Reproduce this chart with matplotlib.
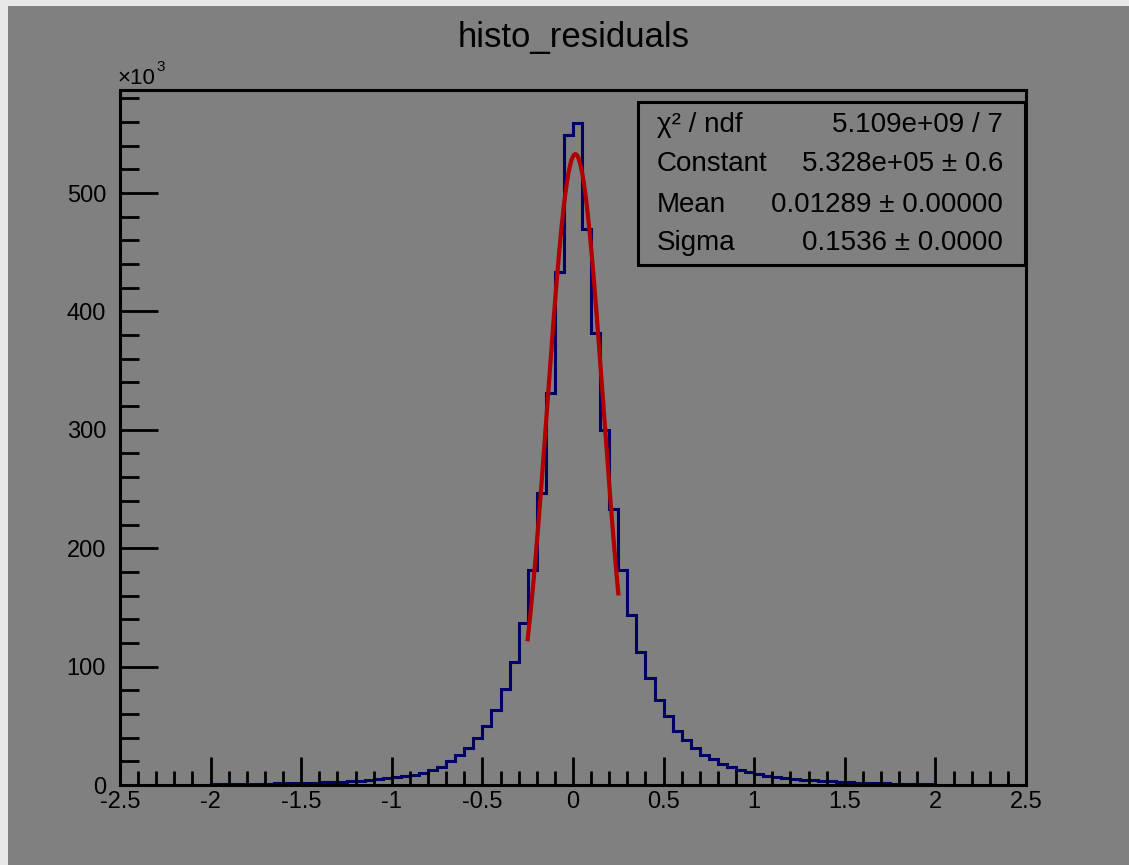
import numpy as np
import matplotlib
matplotlib.use("Agg")
import matplotlib.pyplot as plt
from matplotlib.ticker import MultipleLocator, FuncFormatter
from matplotlib.patches import Rectangle

plt.rcParams['font.family'] = ['Liberation Sans', 'DejaVu Sans']

# histogram: 80 bins of 0.05 from -2 to 2, counts in thousands
bin_lo = -2.0
bin_w = 0.05
counts_k = [0.5, 0.6, 0.7, 0.8, 0.9, 1.0, 1.1, 1.3, 1.4, 1.6,
            1.8, 2.0, 2.3, 2.6, 2.9, 3.3, 3.8, 4.3, 4.9, 5.6,
            6.5, 7.5, 8.5, 10, 12.5, 15.5,
            20, 25, 31, 40, 50, 63, 81, 104, 137, 182, 247, 331, 433, 549,
            559, 470, 382, 300, 233, 182, 144, 112, 90, 72, 58, 46, 38, 31,
            25, 22, 18, 15, 13, 11, 9.5, 8, 7, 6, 5.2, 4.5, 4, 3.5, 3, 2.6,
            2.3, 2.0, 1.8, 1.6, 1.4, 1.2, 1.1, 1.0, 0.9, 0.8]

# gaussian fit results (from stats box)
fit_const = 5.328e5
fit_mean = 0.01289
fit_sigma = 0.1536
fit_range = (-0.25, 0.25)

stat_names = ['χ² / ndf', 'Constant', 'Mean', 'Sigma']
stat_values = ['5.109e+09 / 7', '5.328e+05 ± 0.6', '0.01289 ± 0.00000', '0.1536 ± 0.0000']

counts = np.array(counts_k) * 1000
edges = bin_lo + bin_w * np.arange(len(counts) + 1)

W, H = 1129, 865
fig = plt.figure(figsize=(W / 100, H / 100), dpi=100)
fig.patch.set_facecolor('#e8e8e8')
fig.patches.append(Rectangle((8 / W, 0), 1, 1 - 6 / H, transform=fig.transFigure,
                             facecolor='#808080', edgecolor='none', zorder=-5))

ax = fig.add_axes([120 / W, 1 - 785 / H, (1026 - 120) / W, (785 - 90) / H])
ax.set_zorder(1)
ax.set_facecolor('#808080')
ax.stairs(counts, edges, color='#000066', lw=2.2)

xf = np.linspace(fit_range[0], fit_range[1], 300)
yf = fit_const * np.exp(-0.5 * ((xf - fit_mean) / fit_sigma) ** 2)
ax.plot(xf, yf, color='#b00000', lw=3)

ax.set_xlim(-2.5, 2.5)
ax.set_ylim(0, 587000)
for s in ax.spines.values():
    s.set_linewidth(2.2)
    s.set_color('black')

ax.xaxis.set_major_locator(MultipleLocator(0.5))
ax.xaxis.set_minor_locator(MultipleLocator(0.1))
ax.yaxis.set_major_locator(MultipleLocator(100000))
ax.yaxis.set_minor_locator(MultipleLocator(20000))
ax.xaxis.set_major_formatter(FuncFormatter(lambda v, p: '%g' % v))
ax.yaxis.set_major_formatter(FuncFormatter(lambda v, p: '%d' % round(v / 1000)))
ax.tick_params(which='both', direction='in', top=False, right=False, width=2, color='black')
ax.tick_params(axis='x', which='major', length=20, pad=4, labelsize=17)
ax.tick_params(axis='x', which='minor', length=10)
ax.tick_params(axis='y', which='major', length=27, pad=10, labelsize=17)
ax.tick_params(axis='y', which='minor', length=14)

fig.text(117 / W, 1 - 78 / H, '×10', fontsize=16, va='center', ha='left')
fig.text(156 / W, 1 - 67 / H, '3', fontsize=11, va='center', ha='left')
fig.text(574 / W, 1 - 38 / H, 'histo_residuals', fontsize=25, ha='center', va='center')

# stats box
bx0, bx1, by0, by1 = 638, 1025, 102, 265
ax.add_patch(Rectangle((bx0 / W, 1 - by1 / H), (bx1 - bx0) / W, (by1 - by0) / H,
                       transform=fig.transFigure, facecolor='#808080',
                       edgecolor='black', lw=2.2, zorder=5, clip_on=False))
row_y = [125, 164, 205, 243]
for name, val, yy in zip(stat_names, stat_values, row_y):
    ax.text(657 / W, 1 - yy / H, name, fontsize=20, ha='left', va='center',
            transform=fig.transFigure, zorder=6)
    ax.text(1003 / W, 1 - yy / H, val, fontsize=20, ha='right', va='center',
            transform=fig.transFigure, zorder=6)

fig.savefig('out.png', dpi=100, facecolor=fig.get_facecolor())
